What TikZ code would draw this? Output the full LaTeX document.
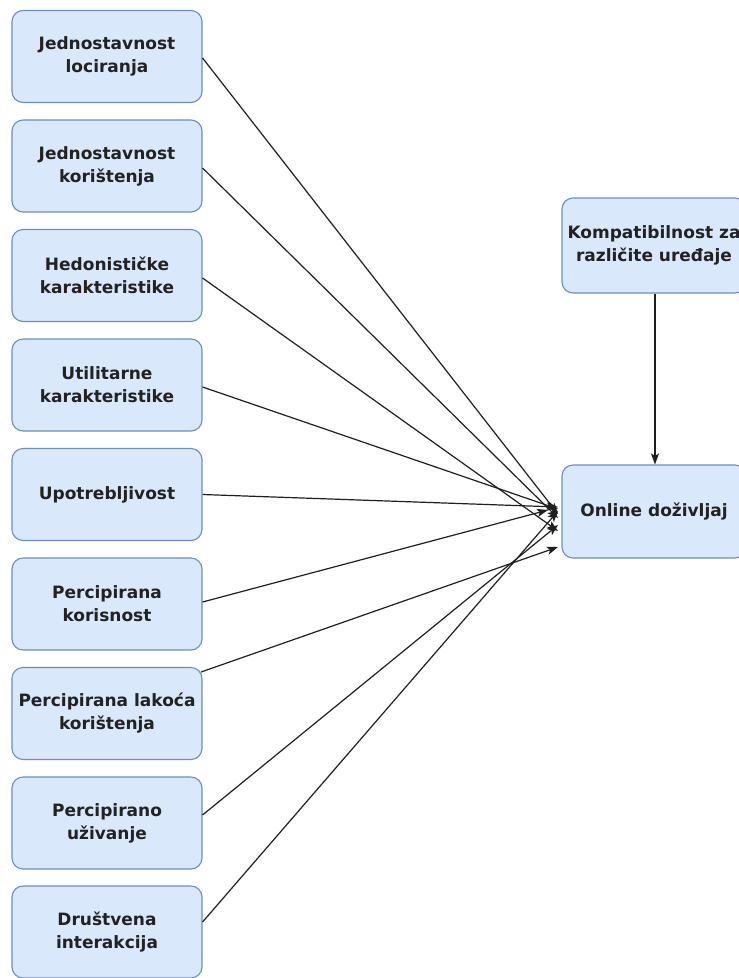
\documentclass[tikz,border=0pt]{standalone}
\usepackage{fontspec}
\setmainfont{DejaVu Sans}
\usetikzlibrary{arrows.meta,calc}
\definecolor{boxfill}{HTML}{DAE8FC}
\definecolor{boxline}{HTML}{6C8EBF}
\definecolor{txt}{HTML}{222222}
\begin{document}
\begin{tikzpicture}[x=1pt,y=-1pt,
  box/.style={draw=boxline, fill=boxfill, line width=1.1pt, rounded corners=11pt,
    minimum width=190pt, minimum height=92pt, inner sep=0pt, align=center, text=txt,
    font=\bfseries\fontsize{17}{23}\selectfont},
  link/.style={draw=black!88, line width=1.2pt, -{Stealth[length=11pt,width=8pt,inset=2.5pt]}}]
\useasboundingbox (0,0) rectangle (739,978);
\clip (0,0) rectangle (739,978);
\fill[white] (0,0) rectangle (739,978);

\node[box] (b1) at (107,56.5) {Jednostavnost\\lociranja};
\node[box] (b2) at (107,166) {Jednostavnost\\korištenja};
\node[box] (b3) at (107,275.5) {Hedonističke\\karakteristike};
\node[box] (b4) at (107,385) {Utilitarne\\karakteristike};
\node[box] (b5) at (107,494.5) {Upotrebljivost};
\node[box] (b6) at (107,604) {Percipirana\\korisnost};
\node[box] (b7) at (107,713.5) {Percipirana lakoća\\korištenja};
\node[box] (b8) at (107,823) {Percipirano\\uživanje};
\node[box] (b9) at (107,932) {Društvena\\interakcija};

\node[box, minimum width=184pt, minimum height=95pt] (komp) at (654,245.5) {Kompatibilnost za\\različite uređaje};
\node[box, minimum width=184pt, minimum height=93pt] (online) at (654,511.5) {Online doživljaj};

\coordinate (e1) at (558,514);
\coordinate (e2) at (558,518);
\coordinate (e3) at (558,531);
\coordinate (e4) at (558,509);
\coordinate (e5) at (558,507);
\coordinate (e6) at (548,510);
\coordinate (e7) at (558,547);
\coordinate (e8) at (558,525);
\coordinate (e9) at (558,511);

\draw[link] ($(b1.east)+(0,1.5)$) -- (e1);
\draw[link] ($(b2.east)+(0,2)$) -- (e2);
\draw[link] ($(b3.east)+(0,2.5)$) -- (e3);
\draw[link] ($(b4.east)+(0,2)$) -- (e4);
\draw[link] (b5.east) -- (e5);
\draw[link] ($(b6.east)+(0,-2)$) -- (e6);
\draw[link] ($(b7.east)+(-1.5,-41.5)$) -- (e7);
\draw[link] ($(b8.east)+(0,-8)$) -- (e8);
\draw[link] ($(b9.east)+(0,-10)$) -- (e9);

\draw[link] ($(komp.south)+(1,0)$) -- ($(online.north)+(1,0)$);
\end{tikzpicture}
\end{document}
